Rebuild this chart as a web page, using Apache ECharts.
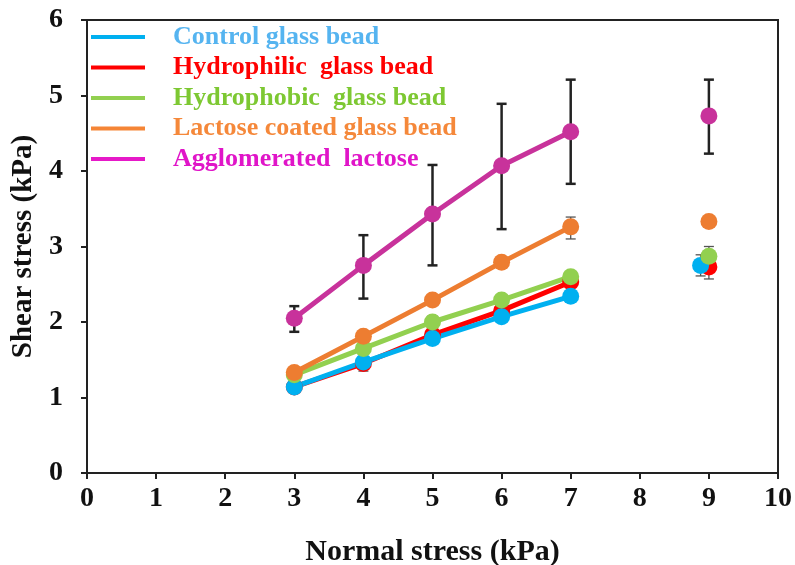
<!DOCTYPE html>
<html>
<head>
<meta charset="utf-8">
<script src="https://cdn.jsdelivr.net/npm/echarts@6/dist/echarts.min.js"></script>
<style>
  html, body { margin: 0; padding: 0; background: #fff; }
  #chart { width: 795px; height: 565px; }
</style>
</head>
<body>
<div id="chart"></div>
<script>
// names, in legend order
const names = ['Control glass bead', 'Hydrophilic  glass bead', 'Hydrophobic  glass bead',
  'Lactose coated glass bead', 'Agglomerated  lactose']

const normalStress = [3, 4, 5, 6, 7]

// shear stress at 3..7 kPa
const control = [1.14, 1.47, 1.78, 2.07, 2.34]
const hydrophilic = [1.14, 1.45, 1.83, 2.15, 2.53]
const hydrophobic = [1.30, 1.65, 2.00, 2.29, 2.60]
const lactoseCoated = [1.33, 1.81, 2.29, 2.79, 3.26]
const agglomerated = [2.05, 2.75, 3.43, 4.07, 4.52]

// single points near 9 kPa  [x, y]
const controlAt9 = [8.88, 2.75]
const hydrophilicAt9 = [9, 2.73]
const hydrophobicAt9 = [9, 2.87]
const lactoseAt9 = [9, 3.33]
const agglomeratedAt9 = [9, 4.73]

// error bars [x, low, high]
const bigErrors = [[3, 1.87, 2.21], [4, 2.31, 3.15], [5, 2.75, 4.08], [6, 3.23, 4.89], [7, 3.83, 5.21], [9, 4.23, 5.21]]
const smallErrors = [[7, 3.10, 3.39], [4, 1.35, 1.50], [5, 1.93, 2.08], [9, 2.74, 3.00], [8.88, 2.61, 2.89], [9, 2.57, 2.89]]

const lineColors = ['#00B0F0', '#FF0000', '#92D050', '#ED7D31', '#C8329B']
const legendLineColors = ['#00B0F0', '#FF0000', '#92D050', '#F58536', '#E619C8']
const legendTextColors = ['#55B4F0', '#FF0000', '#7DC832', '#F5883A', '#E015C8']

const font = "'Liberation Serif', 'Times New Roman', serif"

const lineData = [control, hydrophilic, hydrophobic, lactoseCoated, agglomerated]
const pointData = [controlAt9, hydrophilicAt9, hydrophobicAt9, lactoseAt9, agglomeratedAt9]

function errorSeries(data, color, width, cap) {
    return {
        type: 'custom',
        z: 1,
        silent: true,
        data: data,
        renderItem: function (params, api) {
            const top = api.coord([api.value(0), api.value(2)])
            const bottom = api.coord([api.value(0), api.value(1)])
            const style = { stroke: color, lineWidth: width }
            return {
                type: 'group',
                children: [
                    { type: 'line', shape: { x1: top[0], y1: top[1], x2: bottom[0], y2: bottom[1] }, style: style },
                    { type: 'line', shape: { x1: top[0] - cap, y1: top[1], x2: top[0] + cap, y2: top[1] }, style: style },
                    { type: 'line', shape: { x1: bottom[0] - cap, y1: bottom[1], x2: bottom[0] + cap, y2: bottom[1] }, style: style }
                ]
            }
        }
    }
}

// draw order: red, blue, green, orange, magenta
const drawOrder = [1, 0, 2, 3, 4]
const series = [errorSeries(smallErrors, '#555', 1.3, 5), errorSeries(bigErrors, '#222', 2.5, 5)]
drawOrder.forEach(function (i) {
    series.push({
        name: names[i],
        type: 'line',
        z: 3,
        data: normalStress.map(function (x, k) { return [x, lineData[i][k]] }),
        symbol: 'circle',
        symbolSize: 17,
        lineStyle: { color: lineColors[i], width: 5 },
        itemStyle: { color: lineColors[i] },
        emphasis: { disabled: true },
        animation: false
    })
})
drawOrder.forEach(function (i) {
    series.push({
        name: names[i],
        type: 'scatter',
        z: 3,
        data: [pointData[i]],
        symbolSize: 17,
        itemStyle: { color: lineColors[i], opacity: 1 },
        emphasis: { disabled: true },
        animation: false
    })
})

const myCharts = echarts.init(document.getElementById('chart'))
myCharts.setOption({
    animation: false,
    grid: {
        left: 87, right: 17, top: 20, bottom: 92,
        outerBoundsMode: 'none',
        show: true, borderColor: '#222', borderWidth: 2
    },
    legend: {
        orient: 'vertical',
        left: 86,
        top: 19,
        icon: 'rect',
        itemWidth: 54,
        itemHeight: 4,
        itemGap: 4.5,
        selectedMode: false,
        data: names.map(function (n, i) {
            return {
                name: n,
                itemStyle: { color: legendLineColors[i] },
                textStyle: { color: legendTextColors[i] }
            }
        }),
        textStyle: { fontFamily: font, fontWeight: 'bold', fontSize: 26, lineHeight: 26, padding: [0, 0, 0, 23] }
    },
    xAxis: {
        type: 'value',
        min: 0, max: 10, interval: 1,
        name: 'Normal stress (kPa)',
        nameLocation: 'middle',
        nameGap: 64,
        nameTextStyle: { fontFamily: font, fontWeight: 'bold', fontSize: 30, color: '#111' },
        axisLine: { onZero: false, lineStyle: { color: '#222', width: 2 } },
        axisTick: { length: 6, lineStyle: { color: '#222', width: 2 } },
        axisLabel: { fontFamily: font, fontWeight: 'bold', fontSize: 28, color: '#111', margin: 12 },
        splitLine: { show: false }
    },
    yAxis: {
        type: 'value',
        min: 0, max: 6, interval: 1,
        name: 'Shear stress (kPa)',
        nameLocation: 'middle',
        nameGap: 44,
        nameRotate: 90,
        nameTextStyle: { fontFamily: font, fontWeight: 'bold', fontSize: 29, color: '#111' },
        axisLine: { show: true, onZero: false, lineStyle: { color: '#222', width: 2 } },
        axisTick: { show: true, length: 6, lineStyle: { color: '#222', width: 2 } },
        axisLabel: { fontFamily: font, fontWeight: 'bold', fontSize: 28, color: '#111', margin: 24 },
        splitLine: { show: false }
    },
    series: series
})
</script>
</body>
</html>
